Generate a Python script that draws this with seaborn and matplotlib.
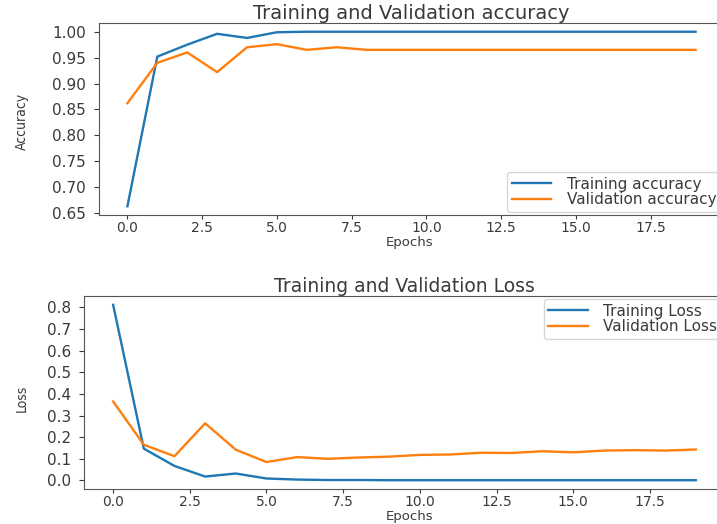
import matplotlib
matplotlib.use("Agg")
import matplotlib.pyplot as plt
import seaborn as sns
import pandas as pd

epochs = list(range(20))
train_acc = [0.663, 0.952, 0.975, 0.996, 0.988, 0.999, 1.0, 1.0, 1.0, 1.0,
             1.0, 1.0, 1.0, 1.0, 1.0, 1.0, 1.0, 1.0, 1.0, 1.0]
val_acc = [0.862, 0.940, 0.960, 0.922, 0.970, 0.976, 0.965, 0.970, 0.965, 0.965,
           0.965, 0.965, 0.965, 0.965, 0.965, 0.965, 0.965, 0.965, 0.965, 0.965]
train_loss = [0.812, 0.147, 0.067, 0.018, 0.032, 0.009, 0.004, 0.002, 0.002, 0.001,
              0.001, 0.001, 0.001, 0.001, 0.001, 0.001, 0.001, 0.001, 0.001, 0.001]
val_loss = [0.365, 0.165, 0.112, 0.264, 0.142, 0.085, 0.108, 0.100, 0.106, 0.110,
            0.118, 0.120, 0.128, 0.127, 0.135, 0.130, 0.138, 0.140, 0.138, 0.143]

BLUE = "#1f77b4"
ORANGE = "#ff7f0e"
TXT = "#3a3a3a"

W, H = 717, 524
fig = plt.figure(figsize=(W / 100, H / 100), dpi=100)
# axes rectangles given in figure pixels (left, top, right, bottom)
def rect(l, t, r, b):
    return [l / W, 1 - b / H, (r - l) / W, (b - t) / H]

ax1 = fig.add_axes(rect(99, 23, 724, 215))
ax2 = fig.add_axes(rect(84, 296, 725, 489))

df_acc = pd.DataFrame({"Epochs": epochs, "train": train_acc, "val": val_acc})
df_loss = pd.DataFrame({"Epochs": epochs, "train": train_loss, "val": val_loss})

sns.lineplot(data=df_acc, x="Epochs", y="train", ax=ax1, color=BLUE, label="Training accuracy", linewidth=1.7)
sns.lineplot(data=df_acc, x="Epochs", y="val", ax=ax1, color=ORANGE, label="Validation accuracy", linewidth=1.7)
sns.lineplot(data=df_loss, x="Epochs", y="train", ax=ax2, color=BLUE, label="Training Loss", linewidth=1.7)
sns.lineplot(data=df_loss, x="Epochs", y="val", ax=ax2, color=ORANGE, label="Validation Loss", linewidth=1.7)

for ax in (ax1, ax2):
    ax.tick_params(axis="x", labelsize=10, colors=TXT, pad=1, length=3)
    ax.tick_params(axis="y", labelsize=11, colors=TXT, pad=6)
    for s in ax.spines.values():
        s.set_color("#555555")
    ax.set_xticks([0, 2.5, 5, 7.5, 10, 12.5, 15, 17.5])
    ax.set_xticklabels(["0.0", "2.5", "5.0", "7.5", "10.0", "12.5", "15.0", "17.5"])
    ax.set_xlabel("Epochs", fontsize=9.5, color=TXT)

ax1.set_yticks([0.65, 0.70, 0.75, 0.80, 0.85, 0.90, 0.95, 1.00])
ax1.set_yticklabels(["0.65", "0.70", "0.75", "0.80", "0.85", "0.90", "0.95", "1.00"])
ax2.set_yticks([0.0, 0.1, 0.2, 0.3, 0.4, 0.5, 0.6, 0.7, 0.8])
ax2.set_yticklabels(["0.0", "0.1", "0.2", "0.3", "0.4", "0.5", "0.6", "0.7", "0.8"])

ax1.set_ylabel("Accuracy", fontsize=10, fontstretch="condensed", color=TXT)
ax2.set_ylabel("Loss", fontsize=10, fontstretch="condensed", color=TXT)
ax1.set_title("Training and Validation accuracy", fontsize=14, color=TXT, pad=3)
ax2.set_title("Training and Validation Loss", fontsize=13.5, color=TXT, pad=3)


def place_labels(ax, xlab_top, ylab_x, ylab_y):
    inv = ax.transAxes.inverted()
    p = inv.transform((410, H - xlab_top))
    ax.xaxis.set_label_coords(p[0], p[1])
    ax.xaxis.label.set_va("top")
    q = inv.transform((ylab_x, H - ylab_y))
    ax.yaxis.set_label_coords(q[0], q[1])
    ax.yaxis.label.set_va("center")


place_labels(ax1, 236, 22, 121)
place_labels(ax2, 510, 22, 398)

leg_kw = dict(fontsize=11, frameon=True, labelcolor=TXT, handlelength=2.6,
              labelspacing=0.05, borderpad=0.3, borderaxespad=0.2, handletextpad=1.0)
ax1.legend(loc="lower right", **leg_kw)
ax2.legend(loc="upper right", **leg_kw)

fig.savefig("out.png", dpi=100)
